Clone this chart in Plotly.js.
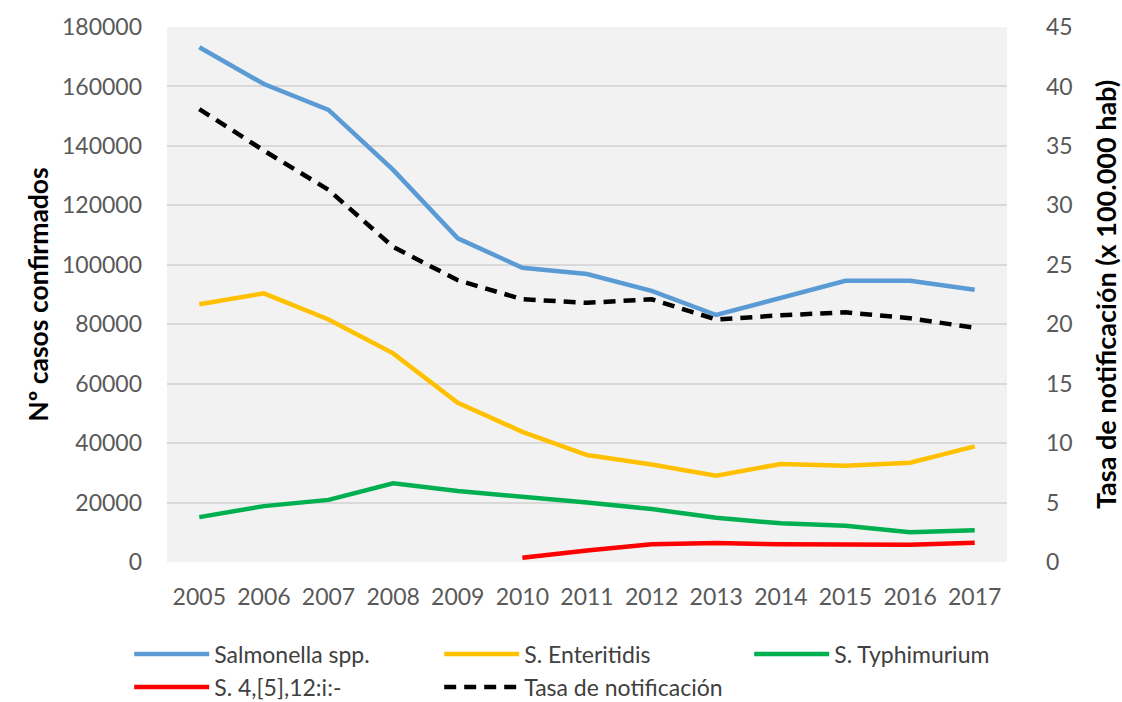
<!DOCTYPE html>
<html>
<head>
<meta charset="utf-8">
<script src="https://cdn.plot.ly/plotly-3.0.1.min.js"></script>
<style>
html,body{margin:0;padding:0;background:#fff;}
#chart{width:1122px;height:702px;}
</style>
</head>
<body>
<div id="chart"></div>
<script>
var years = ["2005","2006","2007","2008","2009","2010","2011","2012","2013","2014","2015","2016","2017"];
var salmonellaSpp = [173200,160800,152100,131900,108900,99000,96900,91200,83100,89000,94600,94600,91600];
var enteritidis   = [86700,90400,81600,70200,53600,43800,36000,32800,29000,33000,32400,33400,38900];
var typhimurium   = [15100,18800,20900,26500,23900,22100,20000,17800,14900,13000,12200,10000,10700];
var monofasica    = [null,null,null,null,null,1400,3900,6000,6400,5950,5950,5800,6500];
var tasaNotif     = [38.1,34.6,31.3,26.5,23.7,22.1,21.8,22.1,20.4,20.75,21.0,20.5,19.7];

var leftTicks = [0,20000,40000,60000,80000,100000,120000,140000,160000,180000];
var rightTicks = [0,5,10,15,20,25,30,35,40,45];

var FONT = "Lato, 'Open Sans', 'Liberation Sans', sans-serif";

var traces = [
  {x: years, y: salmonellaSpp, name: "Salmonella spp.", type: "scatter", mode: "lines",
   line: {color: "#5b9bd5", width: 4.5}},
  {x: years, y: enteritidis, name: "S. Enteritidis", type: "scatter", mode: "lines",
   line: {color: "#ffc000", width: 4.5}},
  {x: years, y: typhimurium, name: "S. Typhimurium", type: "scatter", mode: "lines",
   line: {color: "#00b050", width: 4.5}},
  {x: years, y: monofasica, name: "S. 4,[5],12:i:-", type: "scatter", mode: "lines",
   line: {color: "#ff0000", width: 4.5}},
  {x: years, y: tasaNotif, name: "Tasa de notificación", type: "scatter", mode: "lines",
   yaxis: "y2", line: {color: "#000000", width: 4.5, dash: "12px,8px"}}
];

var layout = {
  width: 1122, height: 702,
  paper_bgcolor: "#ffffff",
  plot_bgcolor: "#f2f2f2",
  margin: {l: 167, r: 115, t: 27, b: 140, autoexpand: false},
  font: {family: FONT, color: "#595959"},
  showlegend: true,
  legend: {
    orientation: "h",
    x: -0.045, xanchor: "left",
    y: -0.132, yanchor: "top",
    entrywidth: 220, entrywidthmode: "pixels",
    itemwidth: 75,
    font: {family: FONT, size: 23, color: "#404040"},
    tracegroupgap: 0,
    traceorder: "normal"
  },
  xaxis: {
    type: "category",
    range: [-0.5, 12.5],
    showgrid: false, zeroline: false, showline: false,
    ticks: "",
    tickfont: {family: FONT, size: 23, color: "#595959"},
    ticklabelstandoff: 19
  },
  yaxis: {
    range: [0, 180000],
    tickvals: leftTicks,
    tickformat: "d",
    showgrid: true, gridcolor: "#d9d9d9", gridwidth: 2,
    zeroline: false, showline: false, ticks: "",
    tickfont: {family: FONT, size: 23, color: "#595959"},
    ticklabelstandoff: 24,
    title: {text: "Nº casos confirmados", font: {family: FONT, size: 26.5, color: "#000000", weight: "bold"}, standoff: 5}
  },
  yaxis2: {
    range: [0, 45],
    tickvals: rightTicks,
    overlaying: "y", side: "right",
    showgrid: false, zeroline: false, showline: false, ticks: "",
    tickfont: {family: FONT, size: 23, color: "#595959"},
    ticklabelstandoff: 38,
    title: {text: "Tasa de notificación (x 100.000 hab)", font: {family: FONT, size: 27, color: "#000000", weight: "bold"}, standoff: 25}
  }
};

Plotly.newPlot("chart", traces, layout, {displayModeBar: false, staticPlot: true});
</script>
</body>
</html>
